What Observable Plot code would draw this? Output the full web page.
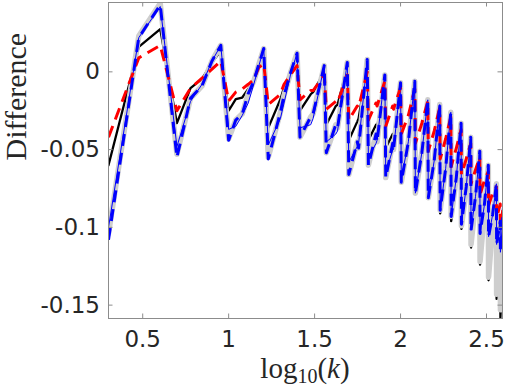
<!DOCTYPE html>
<html>
<head>
<meta charset="utf-8">
<script src="https://cdn.jsdelivr.net/npm/d3@7"></script>
<script src="https://cdn.jsdelivr.net/npm/@observablehq/plot@0.6"></script>
<style>
  html, body { margin: 0; padding: 0; background: #fff; }
</style>
</head>
<body>
<div id="chart"></div>
<script>
// k values (x = log10(k))
const kValues = [2,3,4,5,6,7,8,9,10,11,12,13,14,15,16,17,20,21,23,25,26,30,31,36,37,42,43,49,50,56,57,64,65,72,73,81,82,90,91,100,101,111,121,122,133,144,145,157,169,170,183,196,197,211,225,226,241,256,257,273,289,290,307,324,325,343,361,362,380,381,400];

const blueDashed = [-0.108,0.022,0.043,-0.055,-0.017,-0.009,0.007,0.017,-0.044,-0.031,-0.027,-0.014,-0.006,0.005,0.015,-0.056,
  -0.026,-0.015,0.000,0.012,-0.042,
  -0.029,-0.027,0.004,-0.052,
  -0.034,-0.036,0.006,-0.066,
  -0.045,-0.049,0.008,-0.060,
  -0.040,-0.045,-0.002,-0.068,
  -0.046,-0.050,-0.007,-0.071,
  -0.045,-0.006,-0.078,
  -0.052,-0.018,-0.081,
  -0.057,-0.021,-0.089,
  -0.062,-0.026,-0.093,
  -0.068,-0.033,-0.098,
  -0.074,-0.042,-0.102,
  -0.080,-0.051,-0.104,
  -0.086,-0.060,-0.106,
  -0.092,-0.072,-0.111,
  -0.096,-0.116,-0.081];

const grayThick = [-0.104,0.023,0.044,-0.053,-0.017,-0.009,0.007,0.017,-0.043,-0.031,-0.027,-0.014,-0.006,0.005,0.015,-0.055,
  -0.026,-0.015,0.000,0.012,-0.042,
  -0.029,-0.027,0.004,-0.052,
  -0.034,-0.036,0.006,-0.066,
  -0.045,-0.049,0.008,-0.060,
  -0.040,-0.045,-0.002,-0.068,
  -0.046,-0.050,-0.007,-0.071,
  -0.045,-0.006,-0.078,
  -0.052,-0.018,-0.081,
  -0.057,-0.021,-0.089,
  -0.062,-0.026,-0.093,
  -0.068,-0.033,-0.099,
  -0.076,-0.042,-0.111,
  -0.084,-0.051,-0.122,
  -0.091,-0.060,-0.132,
  -0.099,-0.072,-0.143,
  -0.110,-0.153,-0.090];

const blackSolid = [-0.060,0.016,0.0275,-0.033,-0.0105,-0.0045,0.006,0.0135,-0.025,-0.0176,-0.0165,-0.011,-0.006,0.003,0.0114,-0.036,
  -0.0176,-0.010,0.0006,0.010,-0.025,
  -0.0144,-0.013,0.000,-0.034,
  -0.022,-0.021,0.003,-0.044,
  -0.032,-0.030,0.004,-0.044,
  -0.034,-0.036,-0.005,-0.049,
  -0.040,-0.042,-0.010,-0.060,
  -0.045,-0.009,-0.074,
  -0.055,-0.020,-0.081,
  -0.060,-0.023,-0.091,
  -0.065,-0.028,-0.096,
  -0.070,-0.035,-0.101,
  -0.078,-0.044,-0.113,
  -0.086,-0.053,-0.124,
  -0.095,-0.062,-0.134,
  -0.102,-0.074,-0.146,
  -0.112,-0.158,-0.100];

const blueThin = [-0.100,0.022,0.042,-0.048,-0.019,-0.008,0.007,0.017,-0.037,-0.035,-0.028,-0.020,-0.008,0.004,0.015,-0.047,
  -0.030,-0.020,-0.001,0.012,-0.036,
  -0.034,-0.030,0.004,-0.045,
  -0.040,-0.038,0.006,-0.058,
  -0.048,-0.046,0.007,-0.055,
  -0.046,-0.044,-0.002,-0.065,
  -0.050,-0.050,-0.007,-0.069,
  -0.045,-0.006,-0.078,
  -0.052,-0.018,-0.081,
  -0.057,-0.021,-0.089,
  -0.062,-0.026,-0.093,
  -0.068,-0.033,-0.098,
  -0.074,-0.042,-0.102,
  -0.080,-0.051,-0.104,
  -0.086,-0.060,-0.106,
  -0.092,-0.072,-0.111,
  -0.096,-0.116,-0.081];

const redDashed = [-0.042,0.009,0.017,-0.025,-0.0105,-0.004,0.0017,0.007,-0.0187,-0.013,-0.011,-0.008,-0.005,0.003,0.005,-0.021,
  -0.0144,-0.008,-0.0015,0.004,-0.018,
  -0.012,-0.012,-0.002,-0.024,
  -0.019,-0.020,-0.002,-0.031,
  -0.022,-0.023,0.000,-0.031,
  -0.020,-0.022,-0.006,-0.035,
  -0.022,-0.024,-0.010,-0.040,
  -0.028,-0.011,-0.046,
  -0.033,-0.019,-0.051,
  -0.038,-0.023,-0.056,
  -0.043,-0.029,-0.061,
  -0.049,-0.037,-0.066,
  -0.056,-0.046,-0.072,
  -0.063,-0.055,-0.079,
  -0.070,-0.064,-0.086,
  -0.078,-0.074,-0.094,
  -0.085,-0.100,-0.083];

const xTicks = [0.5, 1, 1.5, 2, 2.5];
const xTickLabels = ["0.5", "1", "1.5", "2", "2.5"];
const yTicks = [-0.15, -0.1, -0.05, 0];
const yTickLabels = ["-0.15", "-0.1", "-0.05", "0"];

const rows = vals => kValues.map((k, i) => ({x: Math.log10(k), v: vals[i]}));
const xTickRows = xTicks.map((t, i) => ({t, label: xTickLabels[i]}));
const yTickRows = yTicks.map((t, i) => ({t, label: yTickLabels[i]}));

const W = 507, H = 388, ML = 108, MR = 5, MT = 2, MB = 70;
const FW = W - ML - MR, FH = H - MT - MB;
const TL = 4.5;
const axisColor = "#8c8c8c";
const dash = "12,7";

const svg = Plot.plot({
  width: W, height: H,
  marginLeft: ML, marginRight: MR, marginTop: MT, marginBottom: MB,
  x: {domain: [Math.log10(2), 2.593], axis: null},
  y: {domain: [-0.1586, 0.0446], axis: null},
  style: {fontFamily: "DejaVu Sans", fontSize: "23px", color: "#262626", background: "white"},
  marks: [
    Plot.line(rows(blackSolid), {x: "x", y: "v", stroke: "#000", strokeWidth: 2.3, clip: true}),
    Plot.line(rows(grayThick), {x: "x", y: "v", stroke: "#cecece", strokeWidth: 5.5, clip: true}),
    Plot.line(rows(blueThin), {x: "x", y: "v", stroke: "#0000ff", strokeWidth: 1, clip: true}),
    Plot.line(rows(redDashed), {x: "x", y: "v", stroke: "#ff0000", strokeWidth: 3, strokeDasharray: dash, strokeLinecap: "butt", clip: true}),
    Plot.line(rows(blueDashed), {x: "x", y: "v", stroke: "#0000ff", strokeWidth: 3, strokeDasharray: dash, strokeLinecap: "butt", clip: true}),
    Plot.frame({stroke: axisColor}),
    Plot.tickX(xTickRows, {x: "t", stroke: axisColor, insetTop: FH - TL}),
    Plot.tickX(xTickRows, {x: "t", stroke: axisColor, insetBottom: FH - TL}),
    Plot.tickY(yTickRows, {y: "t", stroke: axisColor, insetRight: FW - TL}),
    Plot.tickY(yTickRows, {y: "t", stroke: axisColor, insetLeft: FW - TL}),
    Plot.text(xTickRows, {x: "t", text: "label", frameAnchor: "bottom", lineAnchor: "top", dy: 12, fill: "#262626"}),
    Plot.text(yTickRows, {y: "t", text: "label", frameAnchor: "left", textAnchor: "end", dx: -8.5, fill: "#262626"}),
    Plot.text(["Difference"], {text: d => d, frameAnchor: "left", rotate: -90, lineAnchor: "bottom", dx: -83, fontFamily: "Liberation Serif", fontSize: 30, fill: "#262626"})
  ]
});

// x axis title with subscript: log10(k)
const xl = d3.select(svg).append("text")
  .attr("x", ML + FW / 2)
  .attr("y", 378)
  .attr("text-anchor", "middle")
  .attr("font-family", "Liberation Serif")
  .attr("font-size", 29)
  .attr("fill", "#262626");
xl.append("tspan").text("log");
xl.append("tspan").attr("font-size", 20).attr("dy", 5).text("10");
xl.append("tspan").attr("dy", -5).text("(");
xl.append("tspan").attr("font-style", "italic").text("k");
xl.append("tspan").text(")");

document.getElementById("chart").appendChild(svg);
</script>
</body>
</html>
